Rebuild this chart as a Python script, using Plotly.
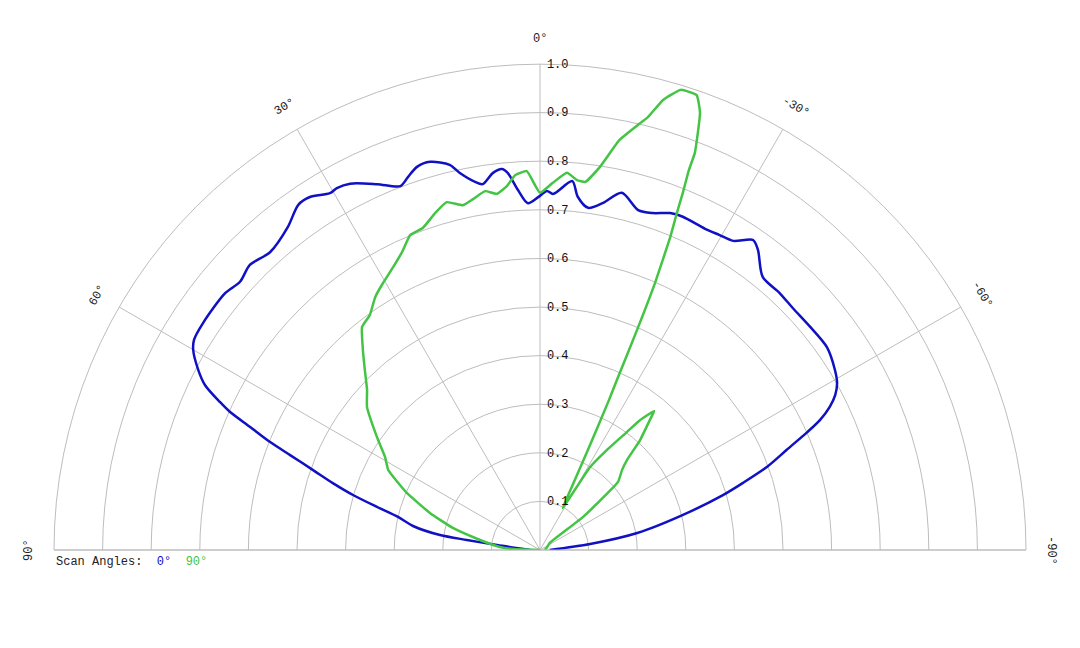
import numpy as np
import plotly.graph_objects as go

# scan angle 0 deg (blue)
theta_0 = [-90, -83.2, -80.1, -76.2, -73.3, -71.7, -69.9, -67.9, -66.2, -65.1,
           -63.7, -62.3, -60.7, -58.6, -54.7, -50.4, -46.3, -43.0, -39.2, -36.0,
           -34.5, -32.0, -29.7, -27.2, -23.2, -21.1, -18.5, -16.1, -12.9, -10.3,
           -8.0, -6.1, -5.0, -2.1, -1.1, 0.3, 2.0, 3.5, 4.9, 5.7,
           7.1, 8.9, 10.0, 12.0, 13.2, 15.8, 17.8, 19.5, 21.0, 24.0,
           27.4, 29.3, 30.5, 33.1, 35.0, 38.0, 42.2, 45.5, 48.2, 50.8,
           56.0, 58.7, 60.0, 62.2, 63.8, 65.2, 66.0, 67.0, 68.2, 69.2,
           70.6, 72.1, 73.6, 75.2, 76.9, 79.3, 81.5, 82.2, 83.4, 90]
r_0 = [0.02, 0.104, 0.203, 0.303, 0.393, 0.440, 0.497, 0.548, 0.601, 0.635,
       0.665, 0.686, 0.701, 0.711, 0.723, 0.721, 0.720, 0.723, 0.725, 0.763,
       0.774, 0.750, 0.746, 0.743, 0.746, 0.743, 0.731, 0.728, 0.754, 0.726,
       0.711, 0.731, 0.762, 0.733, 0.739, 0.726, 0.714, 0.742, 0.779, 0.788,
       0.782, 0.762, 0.769, 0.793, 0.814, 0.830, 0.828, 0.814, 0.802, 0.824,
       0.849, 0.854, 0.852, 0.867, 0.867, 0.843, 0.827, 0.837, 0.828, 0.836,
       0.836, 0.833, 0.824, 0.795, 0.768, 0.725, 0.698, 0.648, 0.598, 0.550,
       0.495, 0.448, 0.401, 0.347, 0.300, 0.266, 0.208, 0.152, 0.089, 0.02]

# scan angle 90 deg (green)
theta_90 = [-90, -70, -54, -52.5, -48.9, -45.7, -44.0, -42.3, -40.2, -39.4,
            -37.6, -36.4, -33.8, -31.1, -28.5, -27.5, -25.6, -24.7, -24.3, -23.8,
            -23.3, -22.6, -22.1, -21.8, -21.4, -21.3, -20.1, -19.0, -17.0, -15.3,
            -14.0, -13.2, -11.0, -8.9, -7.0, -5.7, -4.1, -2.0, 0.0, 2.0,
            3.8, 5.2, 6.9, 8.7, 10.8, 12.6, 15.0, 17.3, 20.0, 22.4,
            24.8, 27.4, 30.5, 33.1, 35.9, 38.6, 41.5, 44.2, 47.2, 50.4,
            55.3, 59.0, 62.2, 66.8, 71.4, 75.8, 80.5, 85.7, 88.0, 90]
r_90 = [0.01, 0.015, 0.025, 0.112, 0.213, 0.236, 0.258, 0.306, 0.350, 0.370,
        0.337, 0.302, 0.248, 0.199, 0.098, 0.116, 0.228, 0.340, 0.390, 0.495,
        0.598, 0.697, 0.749, 0.791, 0.840, 0.877, 0.958, 0.99, 0.99, 0.960,
        0.918, 0.902, 0.860, 0.798, 0.763, 0.765, 0.778, 0.756, 0.735, 0.780,
        0.773, 0.752, 0.738, 0.747, 0.735, 0.727, 0.741, 0.726, 0.705, 0.701,
        0.676, 0.656, 0.637, 0.621, 0.597, 0.587, 0.550, 0.517, 0.485, 0.462,
        0.408, 0.372, 0.353, 0.298, 0.239, 0.185, 0.125, 0.083, 0.055, 0.0]

angle_ticks = [90, 60, 30, 0, -30, -60, -90]
radial_ticks = [0.1, 0.2, 0.3, 0.4, 0.5, 0.6, 0.7, 0.8, 0.9, 1.0]

BLUE = "#1111c4"
GREEN = "#44c444"
GRID = "#bdbdbd"
MONO = "Liberation Mono, Courier New, monospace"

fig = go.Figure()
fig.add_trace(go.Scatterpolar(r=r_0, theta=theta_0, mode="lines",
                              line=dict(color=BLUE, width=2.5, shape="spline", smoothing=0.8),
                              name="0°"))
fig.add_trace(go.Scatterpolar(r=r_90, theta=theta_90, mode="lines",
                              line=dict(color=GREEN, width=2.5, shape="spline", smoothing=0.4),
                              name="90°"))

# page has an 8px body margin, so the plot area is nudged up/left to compensate
fig.update_layout(
    width=1080, height=648,
    margin=dict(l=46, r=62, t=56, b=106),
    paper_bgcolor="white",
    showlegend=False,
    polar=dict(
        sector=[0, 180],
        bgcolor="white",
        angularaxis=dict(
            rotation=90, direction="counterclockwise",
            tickmode="array", tickvals=angle_ticks,
            showticklabels=False, ticks="",
            showgrid=True, gridcolor=GRID, gridwidth=1,
            showline=True, linecolor=GRID, linewidth=1,
        ),
        radialaxis=dict(
            range=[0, 1], angle=90, side="clockwise", tickangle=90,
            tickmode="array", tickvals=radial_ticks, tickformat=".1f",
            # invisible ticks just push the labels off the axis line
            ticks="outside", ticklen=4, tickcolor="rgba(0,0,0,0)",
            showline=False,
            showgrid=True, gridcolor=GRID, gridwidth=1,
            tickfont=dict(family=MONO, size=12, color="#111"),
        ),
    ),
)

# rotated angle labels around the outer ring
R_px, W_px, H_px, off = 486.0, 972.0, 486.0, 25.0
for a in angle_ticks:
    t = np.deg2rad(a)
    fig.add_annotation(
        x=0.5 - (R_px + off) * np.sin(t) / W_px,
        y=(R_px + off) * np.cos(t) / H_px,
        xref="paper", yref="paper", showarrow=False,
        text=f"{a}°", textangle=-a,
        font=dict(family=MONO, size=12, color="#222"),
        xanchor="center", yanchor="middle",
    )

fig.add_annotation(
    x=0.0, y=-0.025, xref="paper", yref="paper", showarrow=False,
    xanchor="left", yanchor="middle",
    text=("Scan Angles: &nbsp;<span style='color:%s'>0°</span>"
          " &nbsp;<span style='color:%s'>90°</span>" % (BLUE, GREEN)),
    font=dict(family=MONO, size=12, color="#222"),
)

fig.write_html("out.html")
